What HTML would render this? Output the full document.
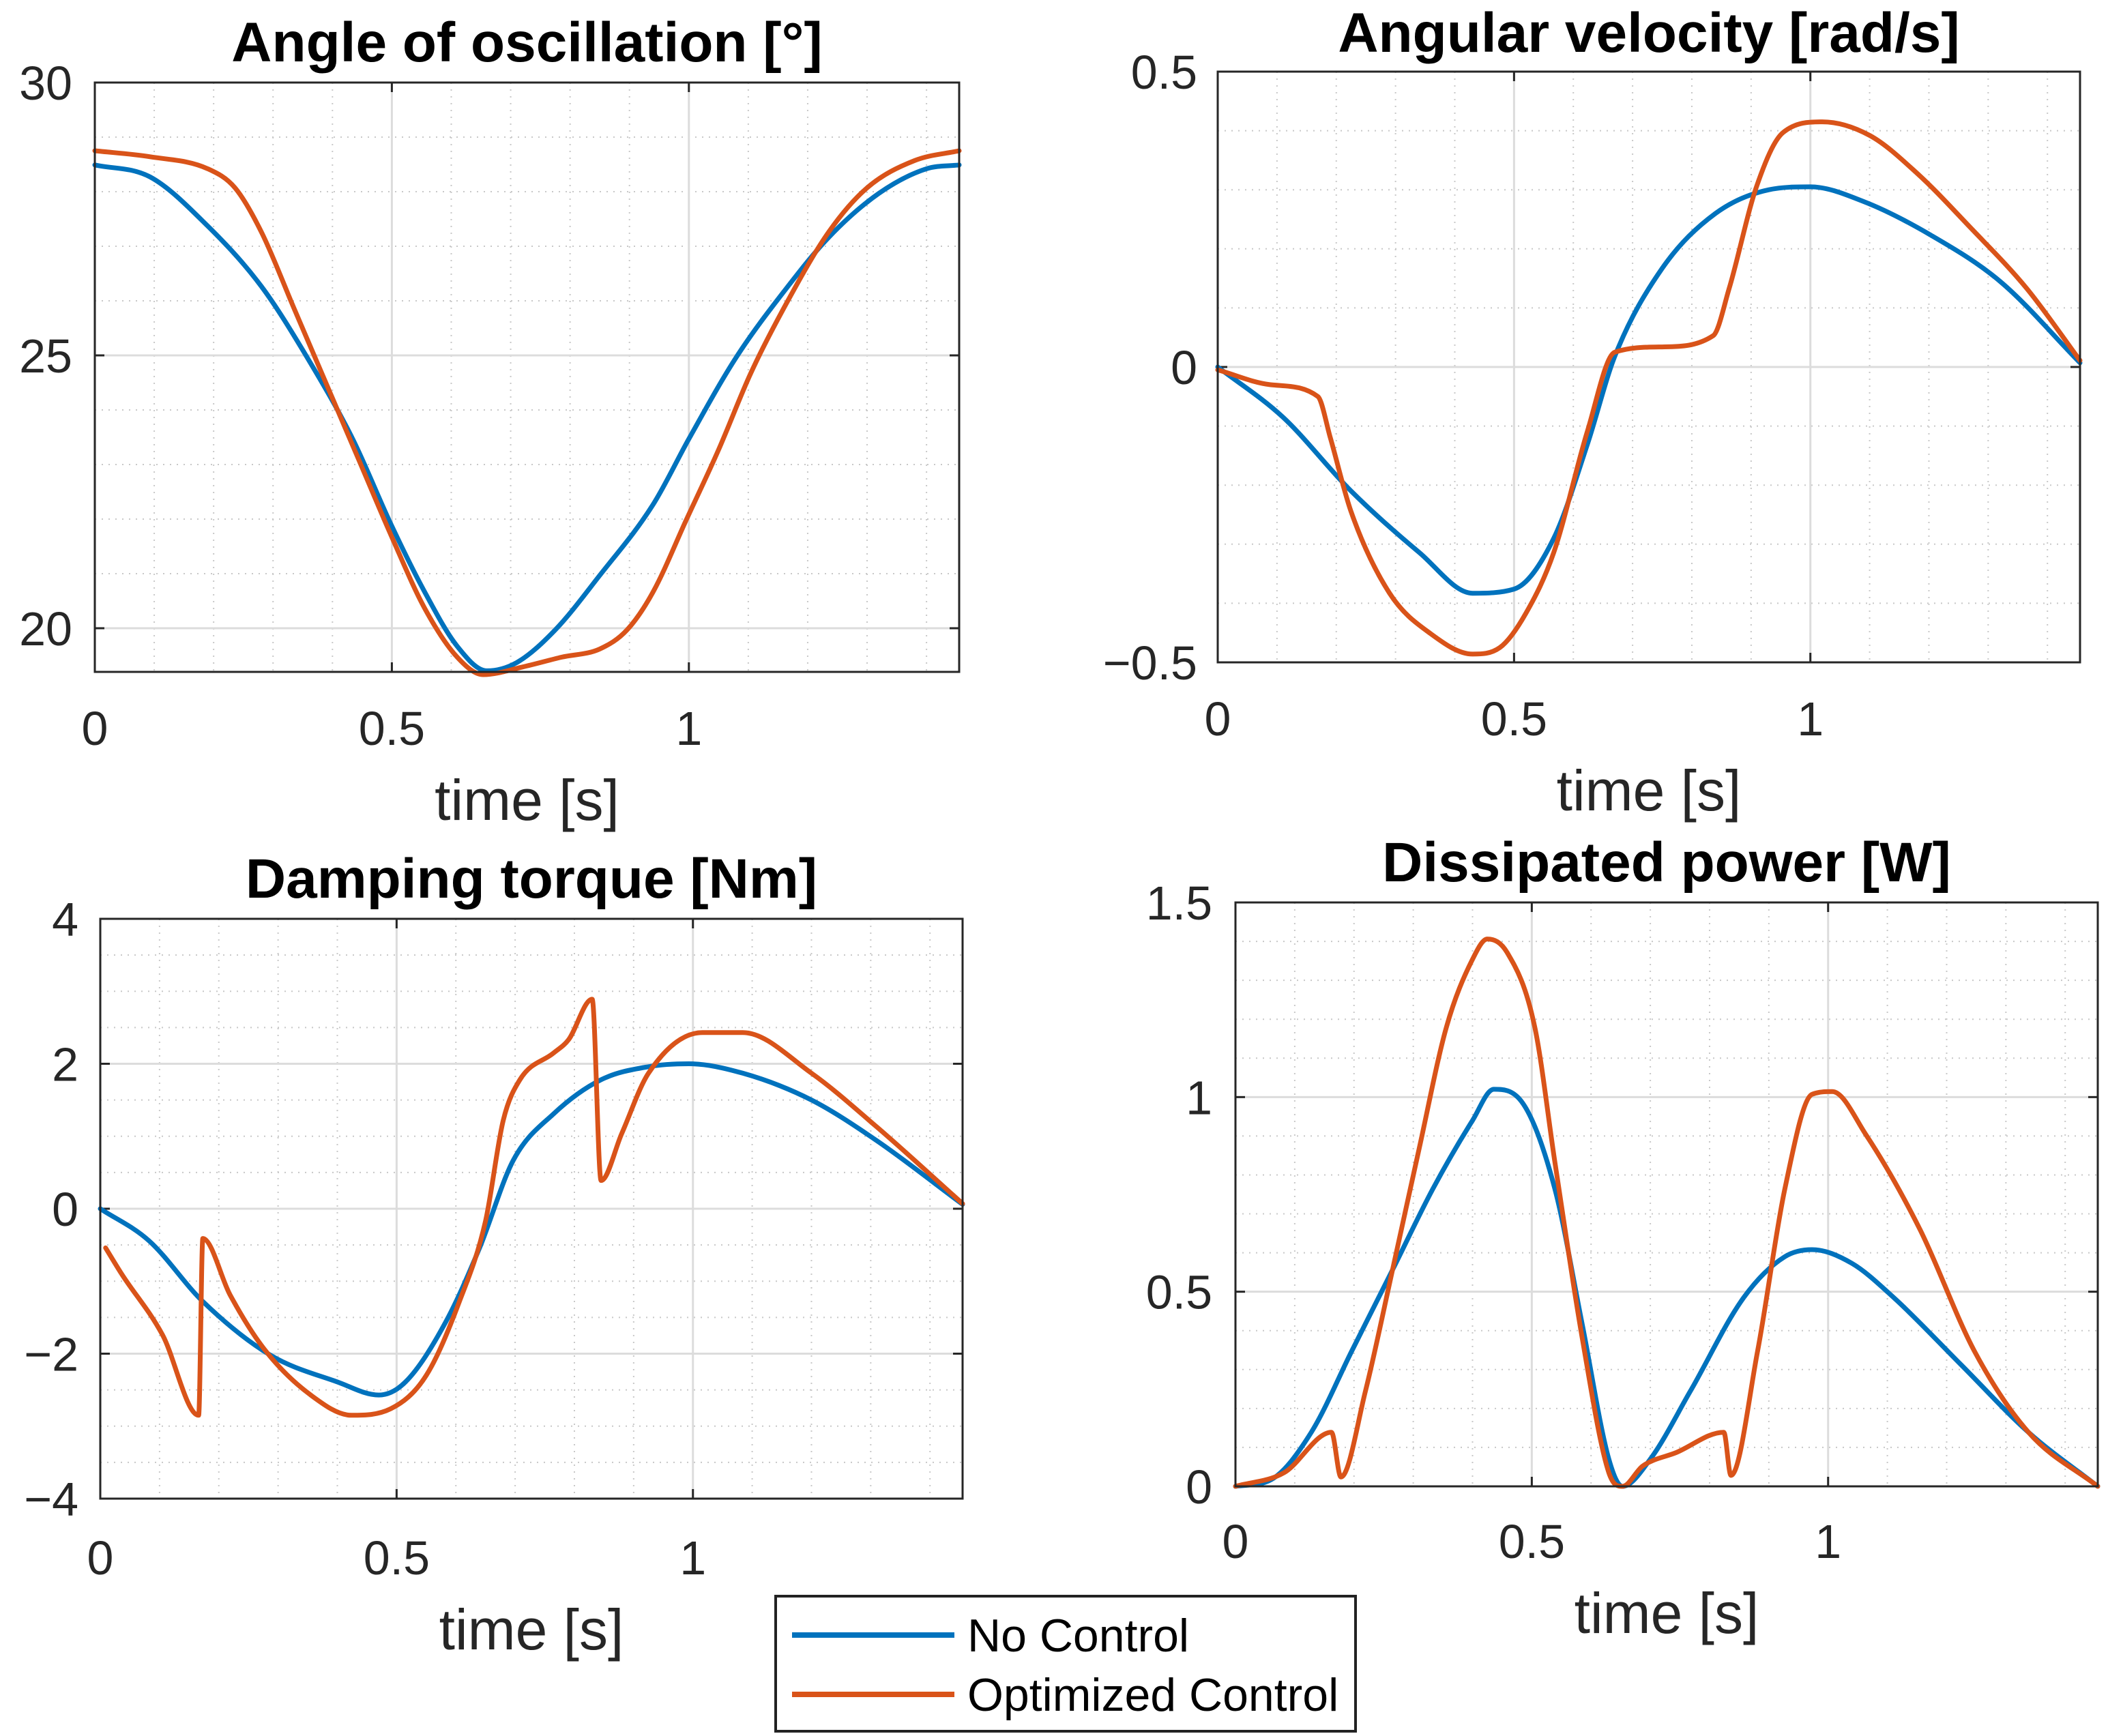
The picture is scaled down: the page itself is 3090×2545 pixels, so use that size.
<!DOCTYPE html>
<html><head><meta charset="utf-8">
<style>
html,body{margin:0;padding:0;background:#fff;}
svg{display:block;font-family:"Liberation Sans",Arial,sans-serif;}
</style></head>
<body>
<svg id="fig" width="3090" height="2545" viewBox="0 0 3090 2545" xmlns="http://www.w3.org/2000/svg">
<rect width="3090" height="2545" fill="#fff"/>
<g id="legend">
<rect x="1137" y="2340" width="850" height="198" fill="#fff" stroke="#222" stroke-width="4"/>
<line x1="1161" y1="2397" x2="1399" y2="2397" stroke="#0072BD" stroke-width="8"/>
<text x="1418" y="2421" font-size="68">No Control</text>
<line x1="1161" y1="2484" x2="1399" y2="2484" stroke="#D95319" stroke-width="8"/>
<text x="1418" y="2508" font-size="68">Optimized Control</text>
</g>
</svg>
<script>
// ---- data ----
const angleBlueT=[0,.093,.19,.28,.357,.434,.5,.555,.61,.66,.71,.775,.85,.94,1.0,1.08,1.16,1.236,1.32,1.40,1.455];
const angleBlueV=[28.49,28.27,27.37,26.27,24.97,23.47,21.87,20.67,19.67,19.22,19.37,19.97,20.97,22.27,23.47,24.97,26.17,27.17,27.97,28.42,28.49];
const angleOrT=[0,.093,.19,.236,.28,.335,.39,.445,.5,.555,.61,.654,.72,.786,.85,.896,.94,.995,1.05,1.104,1.16,1.236,1.30,1.38,1.455];
const angleOrV=[28.75,28.64,28.42,28.07,27.27,25.87,24.47,23.07,21.67,20.37,19.47,19.15,19.29,19.47,19.62,19.97,20.67,21.97,23.27,24.67,25.87,27.27,28.07,28.57,28.75];

const velBlueT=[0,.11,.225,.34,.43,.5,.567,.624,.67,.75,.84,.93,1.0,1.09,1.2,1.32,1.455];
const velBlueV=[0,-.085,-.21,-.314,-.383,-.376,-.29,-.13,.018,.167,.26,.30,.305,.28,.225,.145,.007];
const velOrT=[0,.089,.169,.19,.225,.29,.36,.43,.476,.52,.567,.624,.67,.75,.836,.863,.909,.954,1.02,1.10,1.18,1.27,1.365,1.455];
const velOrV=[-.005,-.03,-.05,-.12,-.245,-.383,-.452,-.486,-.475,-.417,-.314,-.108,.025,.034,.053,.133,.305,.397,.415,.392,.328,.236,.133,.011];

const torqBlueT=[0,.082,.173,.287,.4,.47,.515,.583,.64,.697,.765,.845,.925,.993,1.084,1.2,1.31,1.455];
const torqBlueV=[0,-.44,-1.28,-2.02,-2.39,-2.57,-2.39,-1.56,-.54,.67,1.31,1.78,1.96,2.0,1.87,1.5,.94,.06];
const torqOrT=[.009,.036,.105,.166,.173,.219,.276,.355,.424,.49,.55,.606,.65,.68,.708,.765,.79,.83,.845,.88,.925,1.016,1.084,1.2,1.31,1.455];
const torqOrV=[-.54,-.9,-1.74,-2.85,-.41,-1.19,-1.93,-2.57,-2.85,-2.76,-2.3,-1.28,-.17,1.22,1.78,2.15,2.33,2.89,.39,1.04,1.87,2.43,2.43,1.87,1.13,.07];

const powBlueT=[0,.06,.128,.196,.265,.333,.4,.436,.482,.539,.585,.63,.653,.7,.767,.858,.927,.973,1.04,1.11,1.224,1.338,1.455];
const powBlueV=[0,.017,.139,.347,.556,.764,.94,1.02,.99,.764,.417,.07,0,.07,.243,.486,.59,.608,.573,.486,.313,.139,0];
const powOrT=[0,.082,.162,.178,.219,.265,.31,.356,.4,.425,.459,.505,.539,.585,.63,.653,.687,.744,.824,.836,.881,.927,.973,1.007,1.064,1.155,1.247,1.338,1.455];
const powOrV=[0,.035,.139,.024,.243,.556,.868,1.18,1.354,1.406,1.37,1.18,.833,.382,.035,0,.052,.087,.139,.028,.347,.764,1.007,1.014,.903,.66,.347,.139,0];

const xTicks=[0,0.5,1];
const xTickLabels=["0","0.5","1"];
const angleYTicks=[20,25,30];
const angleYTickLabels=["20","25","30"];
const velYTicks=[-0.5,0,0.5];
const velYTickLabels=["\u22120.5","0","0.5"];
const torqYTicks=[-4,-2,0,2,4];
const torqYTickLabels=["\u22124","\u22122","0","2","4"];
const powYTicks=[0,0.5,1,1.5];
const powYTickLabels=["0","0.5","1","1.5"];

// ---- layout ----
const NS="http://www.w3.org/2000/svg";
const svg=document.getElementById('fig');
function mk(tag,attrs,parent){const e=document.createElementNS(NS,tag);for(const k in attrs)e.setAttribute(k,attrs[k]);(parent||svg).appendChild(e);return e;}

// monotone cubic path through pixel points
function smoothPath(P){
  const n=P.length;if(n<3)return P.map((p,i)=>(i?'L':'M')+p[0]+','+p[1]).join(' ');
  const d=[],m=new Array(n);
  for(let i=0;i<n-1;i++){d.push((P[i+1][1]-P[i][1])/(P[i+1][0]-P[i][0]||1e-6));}
  m[0]=d[0];m[n-1]=d[n-2];
  for(let i=1;i<n-1;i++){m[i]=(d[i-1]*d[i]<=0)?0:(d[i-1]+d[i])/2;}
  for(let i=0;i<n-1;i++){
    if(d[i]===0){m[i]=0;m[i+1]=0;continue;}
    const a=m[i]/d[i],b=m[i+1]/d[i],s=a*a+b*b;
    if(s>9){const t=3/Math.sqrt(s);m[i]=t*a*d[i];m[i+1]=t*b*d[i];}
  }
  let s='M'+P[0][0].toFixed(1)+','+P[0][1].toFixed(1);
  for(let i=0;i<n-1;i++){
    const h=(P[i+1][0]-P[i][0])/3;
    s+=' C'+(P[i][0]+h).toFixed(1)+','+(P[i][1]+m[i]*h).toFixed(1)+' '+(P[i+1][0]-h).toFixed(1)+','+(P[i+1][1]-m[i+1]*h).toFixed(1)+' '+P[i+1][0].toFixed(1)+','+P[i+1][1].toFixed(1);
  }
  return s;
}

function drawPanel(o){
  const g=mk('g',{});
  
  
  const sx=t=>o.L+(t-o.x0)/(o.x1-o.x0)*(o.R-o.L);
  const sy=v=>o.B-(v-o.y0)/(o.y1-o.y0)*(o.B-o.T);
  mk('rect',{x:o.L,y:o.T,width:o.R-o.L,height:o.B-o.T,fill:'#fff'},g);
  for(let t=o.x0+0.1;t<o.x1-1e-6;t+=0.1){
    if(Math.abs(t*2-Math.round(t*2))<1e-6)continue;
    const l=mk('line',{x1:sx(t),x2:sx(t),y1:o.T,y2:o.B,stroke:'#c8c8c8','stroke-width':2,'stroke-dasharray':'2,8'},g);
    
    
  }
  for(let v=o.ymStart;v<o.y1-1e-9;v+=o.ym){
    if(o.yt.some(y=>Math.abs(y-v)<1e-6))continue;
    const l=mk('line',{x1:o.L,x2:o.R,y1:sy(v),y2:sy(v),stroke:'#c8c8c8','stroke-width':2,'stroke-dasharray':'2,8'},g);
    
    
  }
  o.xt.forEach((t,i)=>{
    const l=mk('line',{x1:sx(t),x2:sx(t),y1:o.T,y2:o.B,stroke:'#dcdcdc','stroke-width':3},g);
    
    
    mk('line',{x1:sx(t),x2:sx(t),y1:o.B,y2:o.B-14,stroke:'#262626','stroke-width':3},g);
    mk('line',{x1:sx(t),x2:sx(t),y1:o.T,y2:o.T+14,stroke:'#262626','stroke-width':3},g);
    const tx=mk('text',{x:sx(t),y:o.xtY,'font-size':70,'text-anchor':'middle',fill:'#262626'},g);
    tx.textContent=o.xl[i];
    
    
  });
  o.yt.forEach((v,i)=>{
    const l=mk('line',{x1:o.L,x2:o.R,y1:sy(v),y2:sy(v),stroke:'#dcdcdc','stroke-width':3},g);
    
    
    mk('line',{x1:o.L,x2:o.L+14,y1:sy(v),y2:sy(v),stroke:'#262626','stroke-width':3},g);
    mk('line',{x1:o.R,x2:o.R-14,y1:sy(v),y2:sy(v),stroke:'#262626','stroke-width':3},g);
    const tx=mk('text',{x:o.ytX,y:sy(v)+25,'font-size':70,'text-anchor':'end',fill:'#262626'},g);
    tx.textContent=o.yl[i];
    
    
  });
  o.series.forEach(s=>{
    const pts=s.t.map((t,i)=>[sx(t),sy(s.v[i])]);
    const p=mk('path',{d:smoothPath(pts),fill:'none',stroke:s.c,'stroke-width':7,'stroke-linejoin':'round','stroke-linecap':'round'},g);
    
    
  });
  const fr=mk('rect',{x:o.L,y:o.T,width:o.R-o.L,height:o.B-o.T,fill:'none',stroke:'#262626','stroke-width':3},g);
  
  
  const ti=mk('text',{x:(o.L+o.R)/2,y:o.titleY,'font-size':82,'font-weight':'bold','text-anchor':'middle',fill:'#000'},g);
  ti.textContent=o.title;
  
  
  const xl=mk('text',{x:(o.L+o.R)/2,y:o.xlabY,'font-size':84,'text-anchor':'middle',fill:'#262626'},g);
  xl.textContent='time [s]';
  
  
}

drawPanel({name:'angle-panel',L:139,R:1406,T:121,B:985,x0:0,x1:1.455,y0:19.2,y1:30,
  xt:xTicks,xl:xTickLabels,yt:angleYTicks,yl:angleYTickLabels,ym:1,ymStart:20,
  ytX:106,xtY:1092,xlabY:1202,titleY:90,title:'Angle of oscillation [°]',
  series:[{t:angleBlueT,v:angleBlueV,c:'#0072BD',name:'angle-no-control-line'},{t:angleOrT,v:angleOrV,c:'#D95319',name:'angle-optimized-line'}]});
drawPanel({name:'velocity-panel',L:1785,R:3049,T:105,B:971,x0:0,x1:1.455,y0:-0.5,y1:0.5,
  xt:xTicks,xl:xTickLabels,yt:velYTicks,yl:velYTickLabels,ym:0.1,ymStart:-0.4,
  ytX:1755,xtY:1078,xlabY:1188,titleY:76,title:'Angular velocity [rad/s]',
  series:[{t:velBlueT,v:velBlueV,c:'#0072BD',name:'velocity-no-control-line'},{t:velOrT,v:velOrV,c:'#D95319',name:'velocity-optimized-line'}]});
drawPanel({name:'torque-panel',L:147,R:1411,T:1347,B:2197,x0:0,x1:1.455,y0:-4,y1:4,
  xt:xTicks,xl:xTickLabels,yt:torqYTicks,yl:torqYTickLabels,ym:0.5,ymStart:-3.5,
  ytX:115,xtY:2308,xlabY:2418,titleY:1316,title:'Damping torque [Nm]',
  series:[{t:torqBlueT,v:torqBlueV,c:'#0072BD',name:'torque-no-control-line'},{t:torqOrT,v:torqOrV,c:'#D95319',name:'torque-optimized-line'}]});
drawPanel({name:'power-panel',L:1811,R:3075,T:1323,B:2179,x0:0,x1:1.455,y0:0,y1:1.5,
  xt:xTicks,xl:xTickLabels,yt:powYTicks,yl:powYTickLabels,ym:0.1,ymStart:0.1,
  ytX:1777,xtY:2284,xlabY:2394,titleY:1292,title:'Dissipated power [W]',
  series:[{t:powBlueT,v:powBlueV,c:'#0072BD',name:'power-no-control-line'},{t:powOrT,v:powOrV,c:'#D95319',name:'power-optimized-line'}]});
svg.appendChild(document.getElementById('legend'));
</script>
</body></html>
